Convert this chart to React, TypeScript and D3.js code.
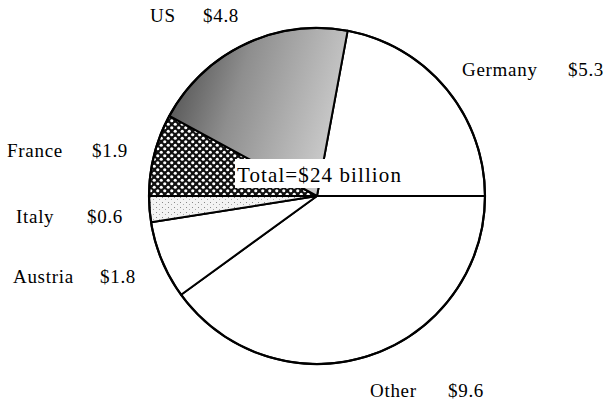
import React from "react";
import * as d3 from "d3";

const categories = ["Germany", "Other", "Austria", "Italy", "France", "US"];
const values = [5.3, 9.6, 1.8, 0.6, 1.9, 4.8];
const valueLabels = ["$5.3", "$9.6", "$1.8", "$0.6", "$1.9", "$4.8"];
const totalLabel = "Total=$24 billion";

// layout only (text anchor positions)
const labelLayout: Record<string, { nx: number; vx: number; y: number }> = {
  Germany: { nx: 462, vx: 568, y: 76 },
  Other: { nx: 370, vx: 448, y: 397 },
  Austria: { nx: 13, vx: 100, y: 283 },
  Italy: { nx: 16, vx: 87, y: 223 },
  France: { nx: 7, vx: 92, y: 157 },
  US: { nx: 150, vx: 203, y: 22 },
};

const fills: Record<string, string> = {
  Germany: "#ffffff",
  Other: "#ffffff",
  Austria: "#ffffff",
  Italy: "url(#stipple)",
  France: "url(#checks)",
  US: "url(#usGrad)",
};

export default function App() {
  const W = 610, H = 403;
  const cx = 317, cy = 196, r = 168;
  const total = d3.sum(values);
  const start = Math.PI / 2 - (values[0] / total) * 2 * Math.PI;
  const pie = d3
    .pie<number>()
    .sort(null)
    .value((d) => d)
    .startAngle(start)
    .endAngle(start + 2 * Math.PI);
  const arcs = pie(values);
  const arc = d3.arc<d3.PieArcDatum<number>>().innerRadius(0).outerRadius(r);

  return (
    <svg
      width={W}
      height={H}
      style={{ position: "absolute", left: 0, top: 0, background: "#fff" }}
      fontFamily="'Liberation Serif', 'DejaVu Serif', serif"
    >
      <defs>
        <linearGradient id="usGrad" x1="0" y1="0" x2="1" y2="0.3">
          <stop offset="0%" stopColor="#444" />
          <stop offset="45%" stopColor="#8e8e8e" />
          <stop offset="100%" stopColor="#c8c8c8" />
        </linearGradient>
        <pattern id="checks" width="7" height="7" patternUnits="userSpaceOnUse">
          <rect width="7" height="7" fill="#111" />
          <circle cx="1.75" cy="1.75" r="1.6" fill="#fff" />
          <circle cx="5.25" cy="5.25" r="1.6" fill="#fff" />
        </pattern>
        <pattern id="stipple" width="6" height="5" patternUnits="userSpaceOnUse">
          <rect width="6" height="5" fill="#f3f3f3" />
          <rect x="1" y="1" width="1" height="1" fill="#888" />
          <rect x="4" y="3" width="1" height="1" fill="#aaa" />
        </pattern>
      </defs>
      <g transform={`translate(${cx},${cy})`}>
        {arcs.map((a, i) => (
          <path
            key={categories[i]}
            d={arc(a) || ""}
            fill={fills[categories[i]]}
            stroke="#000"
            strokeWidth={2}
            strokeLinejoin="round"
          />
        ))}
        <circle r={r} fill="none" stroke="#000" strokeWidth={2.2} />
      </g>
      <rect x={235} y={159} width={175} height={29} fill="#fff" />
      <text x={237} y={182} fontSize={21} letterSpacing={1.1} fill="#000">
        {totalLabel}
      </text>
      {categories.map((c, i) => {
        const l = labelLayout[c];
        return (
          <g key={c} fontSize={19} fill="#000">
            <text x={l.nx} y={l.y} letterSpacing={0.7}>
              {c}
            </text>
            <text x={l.vx} y={l.y} letterSpacing={0.7}>
              {valueLabels[i]}
            </text>
          </g>
        );
      })}
    </svg>
  );
}
